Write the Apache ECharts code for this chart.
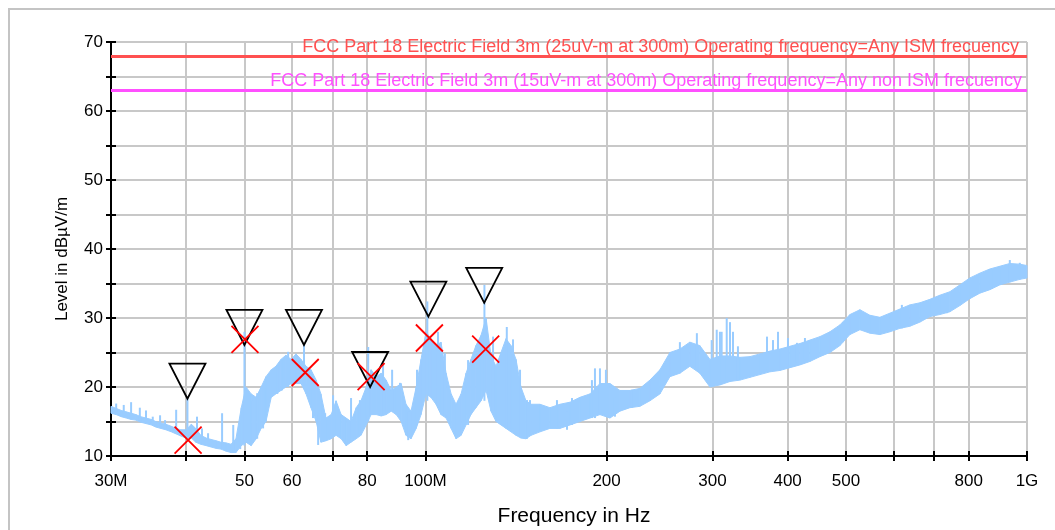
<!DOCTYPE html>
<html>
<head>
<meta charset="utf-8">
<script src="https://cdn.jsdelivr.net/npm/echarts@6/dist/echarts.min.js"></script>
<style>
html, body { margin: 0; background: #fff; }
#chart { width: 1055px; height: 530px; }
</style>
</head>
<body>
<div id="chart"></div>
<script>
// measured trace, read as a low / high envelope per frequency (MHz)
const bandFreq = [
    30.0, 30.6, 31.2, 31.8, 32.4, 33.0, 33.6, 34.3, 35.0, 35.6,
    36.3, 37.0, 37.8, 38.5, 39.2, 40.0, 40.8, 41.5, 42.3, 43.2,
    44.0, 44.9, 45.7, 46.6, 47.5, 48.4, 49.4, 50.3, 51.3, 52.3,
    53.3, 54.3, 55.4, 56.4, 57.5, 58.6, 59.8, 60.9, 62.1, 63.3,
    64.5, 65.8, 67.0, 68.3, 69.7, 71.0, 72.4, 73.8, 75.2, 76.7,
    78.1, 79.7, 81.2, 82.8, 84.4, 86.0, 87.7, 89.4, 91.1, 92.8,
    94.6, 96.5, 98.3, 100.2, 102.1, 104.1, 106.1, 108.2, 110.3, 112.4,
    114.6, 116.8, 119.0, 121.3, 123.7, 126.1, 128.5, 131.0, 133.5, 136.1,
    138.7, 141.4, 144.1, 146.9, 149.8,
    155.0, 161.0, 167.3, 173.9, 180.6, 187.7, 195.0, 202.6, 210.5, 218.7,
    227.2, 236.1, 245.3, 254.9, 264.8, 275.1, 285.8, 297.1, 308.7, 320.8,
    333.3, 346.3, 359.8, 373.8, 388.4, 403.5, 419.3, 435.6, 452.6, 470.3,
    488.6, 507.7, 527.5, 548.0, 569.4, 591.6, 614.7, 638.6, 663.5, 689.4,
    716.3, 744.2, 773.3, 803.4, 834.8, 867.3, 901.1, 936.3, 972.8, 1000
];
const bandLow = [
    16.2, 16.0, 15.7, 15.5, 15.3, 15.2, 14.9, 14.7, 14.5, 14.2,
    14.0, 13.8, 13.5, 13.2, 12.9, 12.6, 12.6, 12.0, 11.7, 11.5,
    11.3, 11.1, 11.0, 10.7, 10.5, 10.5, 11.5, 12.0, 11.5, 12.5,
    14.0, 15.0, 18.5, 19.0, 19.5, 20.0, 20.5, 20.5, 20.5, 19.0,
    17.0, 15.0, 12.0, 12.2, 12.5, 13.0, 12.5, 11.5, 12.0, 12.5,
    13.0, 14.5, 16.0, 16.0, 15.8, 16.0, 16.5, 16.0, 15.0, 13.0,
    12.5, 14.0, 16.0, 19.0, 18.5, 17.5, 16.0, 15.5, 14.0, 12.5,
    13.0, 14.5, 16.0, 17.0, 18.0, 19.5, 16.5, 15.0, 14.5, 14.0,
    13.5, 13.0, 12.6, 12.5, 13.0,
    13.5, 14.0, 14.0, 14.5, 15.0, 15.5, 16.0, 15.5, 16.5, 17.0,
    17.2, 18.0, 19.0, 21.5, 22.0, 23.0, 22.0, 20.0, 20.3, 20.8,
    21.0, 21.4, 21.8, 22.2, 22.4, 22.8, 23.2, 23.7, 24.4, 25.0,
    26.0, 27.6, 28.3, 27.8, 27.6, 28.0, 28.5, 28.8, 29.4, 30.2,
    30.5, 30.9, 31.8, 32.8, 33.6, 34.1, 34.8, 35.2, 35.6, 35.8
];
const bandHigh = [
    17.2, 16.9, 16.6, 16.4, 16.2, 16.0, 15.7, 15.5, 15.3, 15.0,
    14.8, 14.6, 14.3, 14.0, 13.8, 13.8, 14.6, 14.0, 13.0, 12.6,
    12.4, 12.2, 12.0, 11.9, 11.7, 12.5, 17.0, 20.0, 19.0, 18.5,
    20.0, 21.5, 22.5, 23.0, 24.0, 24.6, 24.0, 24.8, 24.0, 23.0,
    22.5, 21.0, 19.0, 15.5, 16.0, 18.0, 16.0, 15.5, 15.0, 17.0,
    18.0, 20.0, 22.5, 21.5, 22.0, 21.0, 19.5, 20.0, 20.5, 17.5,
    16.5, 20.0, 24.0, 28.0, 27.0, 26.0, 26.5, 22.0, 19.0, 17.5,
    19.0, 22.0, 24.0, 26.0, 27.5, 30.0, 24.5, 23.0, 25.0, 27.0,
    26.0, 24.0, 20.0, 18.0, 17.5,
    17.5, 17.0, 17.5, 17.8, 18.5, 19.0, 20.5, 20.5, 19.5, 19.5,
    19.8, 21.0, 22.5, 25.0, 25.5, 26.5, 26.0, 24.0, 24.5, 24.5,
    24.3, 24.4, 24.8, 25.2, 25.5, 25.9, 26.3, 26.8, 27.3, 28.0,
    29.0, 30.5, 31.2, 30.4, 30.1, 30.7, 31.3, 31.9, 32.2, 32.7,
    33.3, 33.8, 34.8, 35.8, 36.5, 37.1, 37.5, 37.9, 37.8, 37.6
];

// narrow spikes and dips standing out of the trace
const spikeFreq = [
    30.6, 31.5, 32.4, 33.5, 34.3, 35.2, 36.2, 36.9, 38.5, 40.2,
    41.7, 42.5, 43.5, 45.9, 47.9, 49.2, 50.0, 51.5, 52.5, 53.7,
    56.7, 57.7, 59.1, 62.8, 65.0, 66.3, 68.1, 70.2, 75.2, 77.8,
    80.3, 85.0, 88.0, 90.7, 93.6, 96.8, 100.7, 104.9, 107.7, 112.8,
    117.7, 125.3, 129.5, 136.5, 139.8, 143.6, 147.5, 149.2, 165.4, 171.9,
    175.2, 189.1, 191.3, 195.0, 199.5, 206.5, 220.4, 264.8, 282.6, 299.1,
    304.9, 308.7, 310.7, 316.8, 320.8, 324.5, 330.7, 369.6, 378.2, 385.5,
    400.5, 414.5, 427.4, 494.4, 619.4, 736.2, 825.3, 874.0, 936.3, 972.8
];
const spikeLow = [
    16.3, 15.8, 15.5, 15.1, 14.9, 14.6, 14.2, 14.0, 13.5, 13.0,
    12.5, 12.0, 11.6, 11.0, 10.8, 11.0, 11.5, 12.0, 12.5, 14.0,
    19.0, 19.5, 20.0, 20.0, 15.5, 11.6, 12.2, 13.0, 12.5, 13.0,
    15.0, 16.0, 16.5, 15.5, 12.3, 14.5, 18.0, 17.0, 16.0, 13.0,
    14.5, 18.0, 16.5, 14.0, 14.0, 13.0, 12.5, 13.0, 14.0, 13.8,
    14.5, 15.5, 15.5, 16.0, 16.0, 15.7, 17.0, 22.0, 22.5, 21.0,
    21.0, 20.3, 21.0, 21.0, 21.0, 21.0, 21.0, 22.5, 22.5, 23.0,
    23.0, 23.5, 24.0, 26.5, 28.5, 30.7, 33.4, 34.2, 35.2, 35.6
];
const spikeHigh = [
    17.6, 17.4, 17.8, 17.0, 16.6, 15.7, 15.9, 15.2, 16.7, 18.6,
    15.7, 14.0, 13.3, 16.2, 14.5, 14.8, 28.0, 18.1, 19.1, 20.0,
    22.9, 23.9, 25.1, 26.3, 19.6, 16.0, 16.2, 18.8, 18.4, 18.1,
    25.8, 23.5, 22.5, 20.6, 16.5, 22.5, 32.4, 28.0, 24.9, 17.5,
    23.9, 34.8, 27.3, 28.7, 26.9, 22.5, 18.1, 18.1, 18.1, 16.5,
    18.4, 21.0, 22.7, 22.7, 22.5, 18.5, 19.6, 26.5, 27.8, 26.8,
    28.3, 28.0, 28.0, 30.0, 29.4, 28.0, 25.9, 27.3, 26.8, 28.0,
    27.1, 26.4, 27.1, 29.4, 31.9, 33.6, 36.2, 37.0, 38.4, 38.0
];

// peak markers (triangles) and quasi-peak results (crosses)
const peakFreq = [40.2, 50.0, 62.8, 80.9, 101.1, 125.2];
const peakLevel = [18.3, 26.1, 26.1, 20.0, 30.2, 32.2];
const qpFreq = [40.3, 50.1, 63.1, 81.2, 101.5, 125.9];
const qpLevel = [12.3, 26.9, 22.1, 21.5, 27.1, 25.5];

// limit lines
const limitLevel = [68, 63];
const limitColor = ['#ff5050', '#ff50ff'];
const limitText = [
    'FCC Part 18 Electric Field 3m (25uV-m at 300m) Operating frequency=Any ISM frecuency',
    'FCC Part 18 Electric Field 3m (15uV-m at 300m) Operating frequency=Any non ISM frecuency'
];

// axis ticks (MHz)
const gridFreq = [30, 40, 50, 60, 70, 80, 100, 200, 300, 400, 500, 600, 700, 800, 1000];
const labelFreq = [30, 50, 60, 80, 100, 200, 300, 400, 500, 800, 1000];

const FONT = '"Liberation Sans", Arial, sans-serif';
const TRACE = '#99ccff';
const lg = Math.log10;

const bandData = bandFreq.map((f, i) => [lg(f), bandLow[i], bandHigh[i]]);
const spikeData = spikeFreq.map((f, i) => [lg(f), spikeLow[i], spikeHigh[i]]);

function renderBand(params, api) {
    const i = params.dataIndex;
    if (i >= bandData.length - 1) return null;
    const a = bandData[i], b = bandData[i + 1];
    return {
        type: 'polygon',
        shape: { points: [api.coord([a[0], a[1]]), api.coord([a[0], a[2]]), api.coord([b[0], b[2]]), api.coord([b[0], b[1]])] },
        style: { fill: TRACE, stroke: TRACE, lineWidth: 1 }
    };
}

function renderSpike(params, api) {
    const p0 = api.coord([api.value(0), api.value(1)]);
    const p1 = api.coord([api.value(0), api.value(2)]);
    return {
        type: 'line',
        shape: { x1: p0[0], y1: p0[1], x2: p1[0], y2: p1[1] },
        style: { stroke: TRACE, lineWidth: 2 }
    };
}

function freqLabel(v) {
    const f = Math.round(Math.pow(10, v));
    if (f === 1000) return '1G';
    if (f === 30 || f === 100) return f + 'M';
    return String(f);
}

const xBase = {
    type: 'value',
    min: lg(30),
    max: lg(1000),
    position: 'bottom'
};
const yBase = {
    type: 'value',
    min: 10,
    max: 70,
    interval: 5,
    position: 'left'
};

const chart = echarts.init(document.getElementById('chart'));
chart.setOption({
    animation: false,
    textStyle: { fontFamily: FONT },
    graphic: [{
        type: 'rect',
        shape: { x: 9, y: 9, width: 1200, height: 700 },
        style: { fill: 'none', stroke: '#c4c4c4', lineWidth: 2 },
        silent: true
    }],
    grid: { left: 111, right: 28, top: 42, bottom: 74, outerBoundsMode: 'none', containLabel: false },
    xAxis: [
        Object.assign({}, xBase, {
            name: 'Frequency in Hz',
            nameLocation: 'middle',
            nameGap: 50,
            nameTextStyle: { fontSize: 21, color: '#000', fontFamily: FONT, padding: [0, 0, 0, 10] },
            axisLine: { lineStyle: { color: '#000', width: 2 } },
            axisTick: { show: true, length: 5, lineStyle: { color: '#000', width: 2 }, customValues: gridFreq.map(lg) },
            axisLabel: { color: '#000', fontSize: 17, margin: 17, fontFamily: FONT, customValues: labelFreq.map(lg), formatter: freqLabel },
            splitLine: { show: true, lineStyle: { color: '#c8c8c8', width: 2 } }
        }),
        Object.assign({}, xBase, {
            axisLine: { show: false },
            axisTick: { show: true, inside: true, length: 5, lineStyle: { color: '#000', width: 2 }, customValues: gridFreq.map(lg) },
            axisLabel: { show: false },
            splitLine: { show: false }
        })
    ],
    yAxis: [
        Object.assign({}, yBase, {
            name: 'Level in dBµV/m',
            nameLocation: 'middle',
            nameGap: 40,
            nameTextStyle: { fontSize: 17, color: '#000', fontFamily: FONT, padding: [0, 20, 0, 0] },
            axisLine: { show: true, lineStyle: { color: '#000', width: 2 } },
            axisTick: { show: true, length: 5, lineStyle: { color: '#000', width: 2 } },
            axisLabel: { color: '#000', fontSize: 17, margin: 8, fontFamily: FONT, formatter: v => (v % 10 === 0 ? String(v) : '') },
            splitLine: { show: true, lineStyle: { color: '#c8c8c8', width: 2 } }
        }),
        Object.assign({}, yBase, {
            axisLine: { show: false },
            axisTick: { show: true, inside: true, length: 5, lineStyle: { color: '#000', width: 2 } },
            axisLabel: { show: false },
            splitLine: { show: false }
        })
    ],
    series: [
        {
            type: 'custom',
            name: 'trace',
            data: bandData,
            encode: { x: 0, y: [1, 2] },
            renderItem: renderBand,
            silent: true,
            z: 2
        },
        {
            type: 'custom',
            name: 'spikes',
            data: spikeData,
            encode: { x: 0, y: [1, 2] },
            renderItem: renderSpike,
            silent: true,
            z: 2
        },
        ...limitLevel.map((lv, i) => ({
            type: 'line',
            name: 'limit' + i,
            data: [],
            z: 3,
            markLine: {
                silent: true,
                symbol: 'none',
                animation: false,
                lineStyle: { color: limitColor[i], width: 3, type: 'solid' },
                label: {
                    position: 'insideEndTop',
                    formatter: limitText[i],
                    color: limitColor[i],
                    fontSize: 18,
                    fontFamily: FONT,
                    distance: 0,
                    padding: [0, i === 0 ? 8 : 5, 0, 0]
                },
                emphasis: { disabled: true },
                data: [{ yAxis: lv }]
            }
        })),
        {
            type: 'scatter',
            name: 'peak',
            data: peakFreq.map((f, i) => [lg(f), peakLevel[i]]),
            symbol: 'path://M0,0L20,0L10,20Z',
            symbolSize: [36, 35],
            symbolOffset: [0, -17.5],
            itemStyle: { color: 'rgba(0,0,0,0)', borderColor: '#000', borderWidth: 1.8, opacity: 1 },
            silent: true,
            z: 5
        },
        {
            type: 'scatter',
            name: 'quasi-peak',
            data: qpFreq.map((f, i) => [lg(f), qpLevel[i]]),
            symbol: 'path://M0,0L10,10M10,0L0,10',
            symbolSize: 27,
            itemStyle: { color: 'rgba(0,0,0,0)', borderColor: '#ff0000', borderWidth: 1.8, opacity: 1 },
            silent: true,
            z: 6
        }
    ]
});
</script>
</body>
</html>
